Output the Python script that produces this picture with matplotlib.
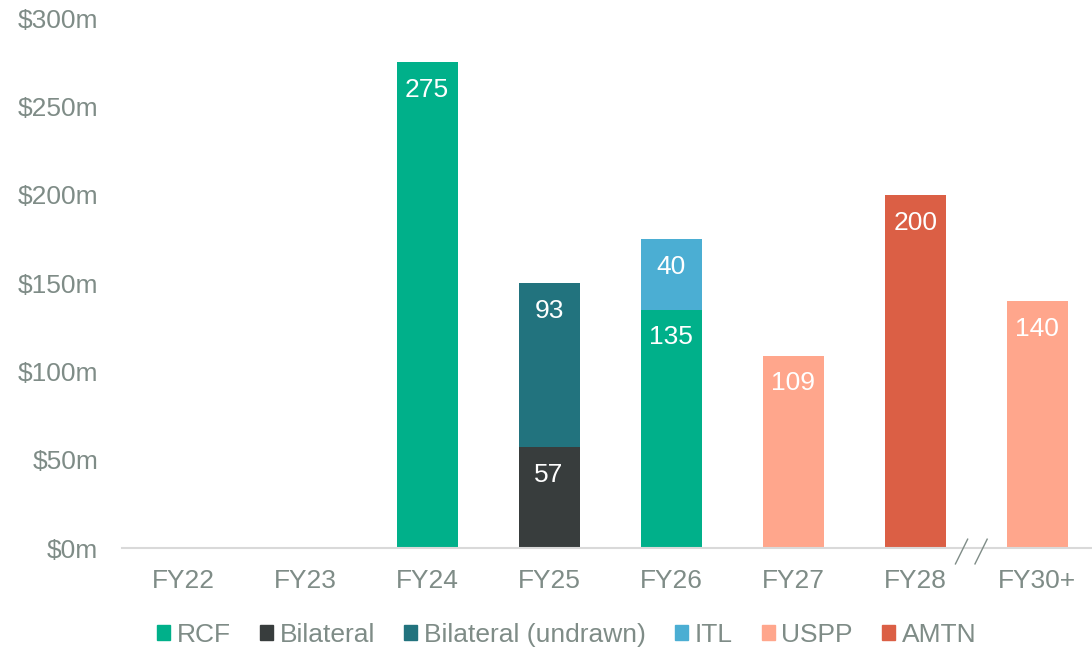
import numpy as np
import matplotlib.pyplot as plt
from matplotlib.patches import Patch

plt.rcParams['font.family'] = ['Liberation Sans', 'DejaVu Sans']

categories = ['FY22', 'FY23', 'FY24', 'FY25', 'FY26', 'FY27', 'FY28', 'FY30+']
series = ['RCF', 'Bilateral', 'Bilateral (undrawn)', 'ITL', 'USPP', 'AMTN']
colors = ['#00B08A', '#383D3D', '#22737E', '#4BAED3', '#FFA68C', '#DB5F45']

# stacking order per bar (bottom to top)
rcf       = [0, 0, 275, 0, 135, 0, 0, 0]
bilateral = [0, 0, 0, 57, 0, 0, 0, 0]
undrawn   = [0, 0, 0, 93, 0, 0, 0, 0]
itl       = [0, 0, 0, 0, 40, 0, 0, 0]
uspp      = [0, 0, 0, 0, 0, 109, 0, 140]
amtn      = [0, 0, 0, 0, 0, 0, 200, 0]

values = [rcf, bilateral, undrawn, itl, uspp, amtn]
txt = '#7F8C87'

fig = plt.figure(figsize=(10.92, 6.49), dpi=100)
ax = fig.add_axes([0.1117, 0.1556, 0.894, 0.8164])

x = np.arange(len(categories))
bottom = np.zeros(len(categories))
for vals, col in zip(values, colors):
    vals = np.array(vals, dtype=float)
    ax.bar(x, vals, 0.5, bottom=bottom, color=col, zorder=2)
    for xi, v, b in zip(x, vals, bottom):
        if v > 0:
            ax.annotate(f'{int(v)}', (xi, b + v), xytext=(0, -20),
                        textcoords='offset points', ha='center', va='center',
                        color='white', fontsize=19)
    bottom += vals

ax.set_xlim(-0.5, 7.5)
ax.set_ylim(0, 300)
ax.set_yticks(np.arange(0, 301, 50))
ax.set_yticklabels([f'${v}m' for v in range(0, 301, 50)])
ax.set_xticks(x)
ax.set_xticklabels(categories)
ax.tick_params(axis='both', length=0, labelsize=19, colors=txt)
ax.tick_params(axis='x', pad=15)
ax.tick_params(axis='y', pad=17)
for s in ['top', 'right', 'left']:
    ax.spines[s].set_visible(False)
ax.spines['bottom'].set_color('#D9D9D9')
ax.spines['bottom'].set_linewidth(1.5)

# axis break marks between FY28 and FY30+
for dx in (-0.12, 0.04):
    ax.plot([6.5 + dx - 0.05, 6.5 + dx + 0.05], [-9, 5], color='#7F8C87',
            lw=1, clip_on=False, zorder=3)

handles = [Patch(color=c) for c in colors]
fig.legend(handles, series, loc='center', bbox_to_anchor=(0.519, 0.022),
           ncol=6, frameon=False, fontsize=19, labelcolor=txt,
           handlelength=0.5, handleheight=0.5, handletextpad=0.25,
           columnspacing=1.1)

fig.savefig('out.png', dpi=100)
